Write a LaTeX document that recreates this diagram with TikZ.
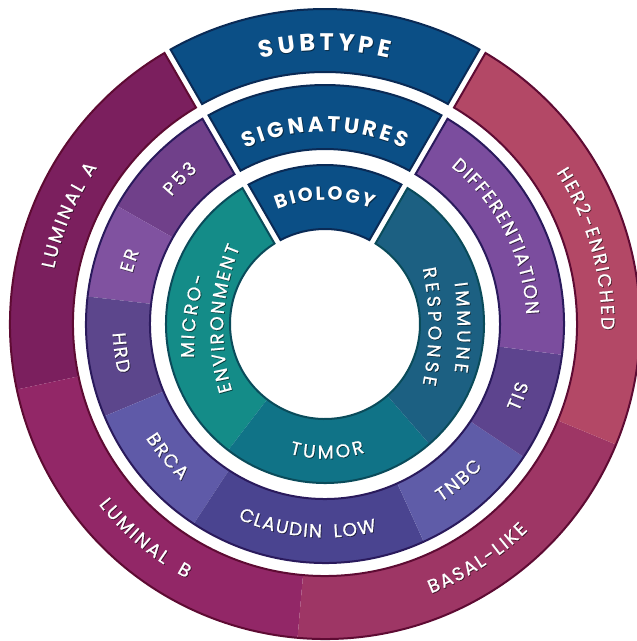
\documentclass[tikz,border=0pt]{standalone}
\usepackage{fontspec}
\newfontfamily\pop{Poppins}
\newfontfamily\popm{Poppins}[FakeBold=1.0]
\definecolor{tabblue}{HTML}{0B4F86}
\definecolor{tabedge}{HTML}{0A2A55}
\definecolor{lumA}{HTML}{7B1F5E}
\definecolor{lumB}{HTML}{922767}
\definecolor{basal}{HTML}{9E3665}
\definecolor{her2}{HTML}{B34866}
\definecolor{outedge}{HTML}{5E0B33}
\definecolor{p53c}{HTML}{70408A}
\definecolor{erc}{HTML}{8052A0}
\definecolor{hrdc}{HTML}{5C468C}
\definecolor{brcac}{HTML}{5F5AA8}
\definecolor{claudinc}{HTML}{4A4490}
\definecolor{tnbcc}{HTML}{5F5CA8}
\definecolor{tisc}{HTML}{5D448E}
\definecolor{diffc}{HTML}{7B4D9E}
\definecolor{midedge}{HTML}{2A1A5C}
\definecolor{microc}{HTML}{148C88}
\definecolor{tumorc}{HTML}{107387}
\definecolor{immunec}{HTML}{1C6082}
\definecolor{inedge}{HTML}{0A4B5A}

% annular sector: start, end, r_in, r_out, edge offset at start, edge offset at end
\newcommand\annsec[6]{({#1+asin(#5/#4)}:#4pt) arc[start angle={#1+asin(#5/#4)}, end angle={#2-asin(#6/#4)}, radius=#4pt] -- ({#2-asin(#6/#3)}:#3pt) arc[start angle={#2-asin(#6/#3)}, end angle={#1+asin(#5/#3)}, radius=#3pt] -- cycle}

% ---- text on an arc, one character at a time ----
\newdimen\lblcw
\newdimen\lbltw
\newdimen\lspd
\newbox\lblbox
\newcommand\curfont{}
\newcommand\lspn{0}
\newcommand\sgn{1}
\newcommand\lblcol{white}
\newcommand\lblop{1}
\newcommand\getcw[1]{\pgfinterruptpicture\setbox\lblbox=\hbox{\curfont #1}\global\lblcw=\wd\lblbox\endpgfinterruptpicture}
\def\measureloop#1{\ifx\relax#1\else\getcw{#1}\advance\lbltw by \lblcw\advance\lbltw by 2\lspd\expandafter\measureloop\fi}
\newcommand\placechar[1]{%
  \getcw{#1}%
  \pgfmathsetmacro\wch{\lblcw+2*\lspn}%
  \pgfmathsetmacro\tha{\curang-(\sgn)*\wch/2/\rb*57.29578}%
  \node[inner sep=0pt,outer sep=0pt,anchor=base,rotate={\tha-90*(\sgn)},text=\lblcol,text opacity=\lblop] at (\tha:\rb pt) {\curfont #1};%
  \pgfmathsetmacro\curang{\curang-(\sgn)*\wch/\rb*57.29578}%
}
\def\placeloop#1{\ifx\relax#1\else\placechar{#1}\expandafter\placeloop\fi}
% #1 font, #2 letter spacing (each side, pt), #3 centre angle, #4 radius of text centre,
% #5 1 = clockwise/tops outward, -1 = anticlockwise/tops inward, #6 cap height, #7 text
\newcommand\arclabel[7]{%
  \def\curfont{#1}\lspd=#2pt\relax\def\lspn{#2}\def\sgn{#5}%
  \pgfmathsetmacro\rb{#4-(#5)*#6/2}%
  \lbltw=0pt\relax\measureloop#7\relax
  \pgfmathsetmacro\startang{#3+(#5)*\lbltw/2/\rb*57.29578}%
  \begin{scope}[shift={(0.8pt,-0.8pt)}]
    \def\lblcol{black}\def\lblop{0.5}\let\curang\startang\placeloop#7\relax
  \end{scope}
  \def\lblcol{white}\def\lblop{1}\let\curang\startang\placeloop#7\relax
}
% same, on an arc whose centre is shifted to #8
\newcommand\arclabelc[8]{\begin{scope}[shift={(#8)}]\arclabel{#1}{#2}{#3}{#4}{#5}{#6}{#7}\end{scope}}

\newcommand\fTabA{\pop\bfseries\fontsize{24}{26}\selectfont}
\newcommand\fTabB{\pop\bfseries\fontsize{21.5}{24}\selectfont}
\newcommand\fTabC{\pop\bfseries\fontsize{19}{21}\selectfont}
\newcommand\fLab{\popm\fontsize{18.5}{20}\selectfont}

\def\gd{3.5}
\tikzset{
  tabsec/.style={fill=tabblue,draw=tabedge,line width=2pt},
  ringline/.style={draw=#1,line width=2pt}
}

\begin{document}
\begin{tikzpicture}
\useasboundingbox (-325pt,-317pt) rectangle (312pt,324pt);
\clip (-325pt,-317pt) rectangle (312pt,324pt);

% ---------- outer ring: subtypes ----------
\fill[lumA]  \annsec{120}{192}{252}{315}{\gd}{0};
\fill[lumB]  \annsec{192}{265}{252}{315}{0}{0};
\fill[basal] \annsec{265}{337.5}{252}{315}{0}{0};
\fill[her2]  \annsec{337.5}{420}{252}{315}{0}{\gd};
\path[ringline=outedge] \annsec{120}{420}{252}{315}{\gd}{\gd};
\path[tabsec] \annsec{60}{120}{252}{315}{\gd}{\gd};

% ---------- middle ring: signatures ----------
\fill[p53c]     \annsec{120}{150.4}{175}{239}{\gd}{0};
\fill[erc]      \annsec{150.4}{173.4}{175}{239}{0}{0};
\fill[hrdc]     \annsec{173.4}{202.7}{175}{239}{0}{0};
\fill[brcac]    \annsec{202.7}{236.7}{175}{239}{0}{0};
\fill[claudinc] \annsec{236.7}{294.4}{175}{239}{0}{0};
\fill[tnbcc]    \annsec{294.4}{326.2}{175}{239}{0}{0};
\fill[tisc]     \annsec{326.2}{352.6}{175}{239}{0}{0};
\fill[diffc]    \annsec{352.6}{420}{175}{239}{0}{\gd};
\path[ringline=midedge] \annsec{120}{420}{175}{239}{\gd}{\gd};
\path[tabsec] \annsec{60}{120}{175}{239}{\gd}{\gd};

% ---------- inner ring: biology ----------
\fill[microc]  \annsec{120}{232.5}{95}{159}{\gd}{0};
\fill[tumorc]  \annsec{232.5}{311}{95}{159}{0}{0};
\fill[immunec] \annsec{311}{420}{95}{159}{0}{\gd};
\path[ringline=inedge] \annsec{120}{420}{95}{159}{\gd}{\gd};
\path[tabsec] \annsec{60}{120}{95}{159}{\gd}{\gd};

% ---------- labels ----------
\arclabel{\fTabA}{2.0}{90}{282}{1}{17}{SUBTYPE}
\arclabel{\fLab}{1.2}{157}{283}{1}{13}{LUMINAL~A}
\arclabel{\fLab}{1.2}{230}{283}{-1}{13}{LUMINAL~\,B}
\arclabel{\fLab}{1.0}{303}{283}{-1}{13}{BASAL-LIKE}
\arclabel{\fLab}{1.0}{16}{283}{1}{13}{HER2-ENRICHED}

\arclabel{\fTabB}{1.6}{90}{200}{1}{15}{SIGNATURES}
\arclabel{\fLab}{1.0}{135}{206}{1}{13}{P53}
\arclabel{\fLab}{1.0}{162}{206}{1}{13}{ER}
\arclabel{\fLab}{1.0}{188}{206}{-1}{13}{HRD}
\arclabel{\fLab}{1.0}{220}{206}{-1}{13}{BRCA}
\arclabel{\fLab}{0.7}{265}{207}{-1}{13}{CLAUDIN~\,LOW}
\arclabel{\fLab}{1.0}{310.5}{206}{-1}{13}{TNBC}
\arclabel{\fLab}{1.0}{339.5}{206}{-1}{13}{TIS}
\arclabel{\fLab}{0.8}{27}{208}{1}{13}{DIFFERENTIATION}

\arclabel{\fTabC}{1.1}{90}{131}{1}{13.5}{BIOLOGY}
\arclabelc{\fLab}{1.2}{172}{250}{1}{13}{MICRO-}{112.5pt,-26.5pt}
\arclabelc{\fLab}{1.0}{176.9}{220}{1}{13}{ENVIRONMENT}{111.7pt,-6pt}
\arclabel{\fLab}{1.5}{271}{128}{-1}{13}{TUMOR}
\arclabelc{\fLab}{1.8}{0}{350}{1}{13}{IMMUNE}{-211pt,-3.5pt}
\arclabelc{\fLab}{1.9}{0}{300}{1}{13}{RESPONSE}{-190pt,-2.5pt}
\end{tikzpicture}
\end{document}
